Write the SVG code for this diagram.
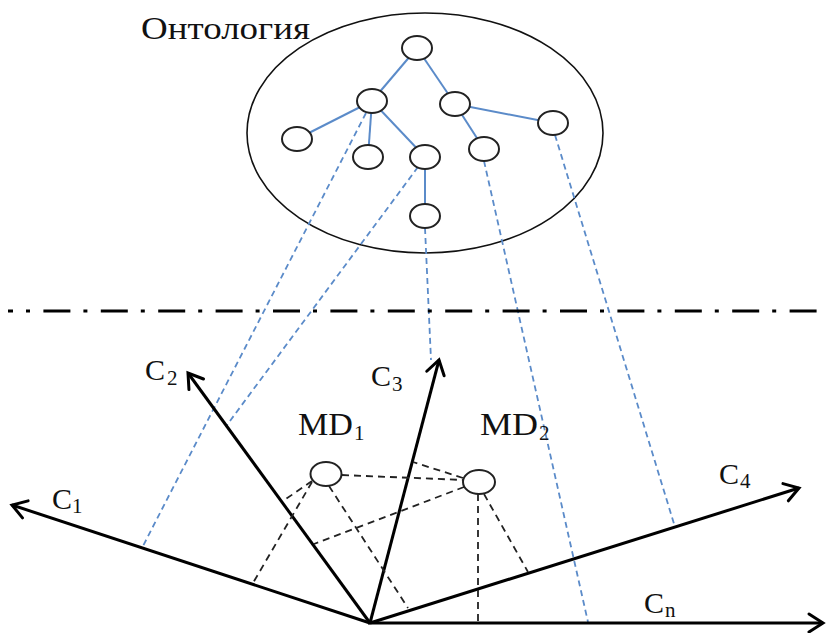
<svg xmlns="http://www.w3.org/2000/svg" width="827" height="633" viewBox="0 0 827 633">
  <style>
    .lbl { font-family: "Liberation Serif", "Times New Roman", serif; fill: #111; }
    .big { font-size: 30px; }
    .sub { font-size: 21px; }
    .tree { stroke: #5b8bc9; stroke-width: 2; fill: none; }
    .proj { stroke: #5b8bc9; stroke-width: 1.8; stroke-dasharray: 6 4; fill: none; }
    .node { fill: #fff; stroke: #222; stroke-width: 2; }
    .axis { stroke: #000; stroke-width: 3; fill: none; marker-end: url(#arrow); }
    .link { stroke: #222; stroke-width: 1.8; stroke-dasharray: 7 5; fill: none; }
  </style>
  <defs>
    <marker id="arrow" viewBox="-18 -12 22 24" refX="0" refY="0" markerWidth="22" markerHeight="24" markerUnits="userSpaceOnUse" orient="auto">
      <path d="M-14,-9 L0,0 L-14,9" fill="none" stroke="#000" stroke-width="3" stroke-linejoin="miter" stroke-linecap="round"/>
    </marker>
  </defs>
  <rect width="827" height="633" fill="#fff"/>

  <!-- ontology -->
  <g id="ontology">
    <ellipse cx="425" cy="133" rx="178" ry="120" fill="none" stroke="#111" stroke-width="1.6"/>
    <text class="lbl" x="141" y="39" font-size="32" textLength="169" lengthAdjust="spacingAndGlyphs">Онтология</text>
  </g>

  <!-- tree edges and projection lines -->
  <g id="connectors">
    <line class="tree" x1="417" y1="48" x2="372" y2="101"/>
    <line class="tree" x1="417" y1="48" x2="455" y2="104"/>
    <line class="tree" x1="372" y1="101" x2="297" y2="139"/>
    <line class="tree" x1="372" y1="101" x2="368" y2="157"/>
    <line class="tree" x1="372" y1="101" x2="425" y2="157"/>
    <line class="tree" x1="455" y1="104" x2="484" y2="149"/>
    <line class="tree" x1="455" y1="104" x2="553" y2="123"/>
    <line class="tree" x1="425" y1="157" x2="425" y2="216"/>

    <line class="proj" x1="366" y1="113" x2="143" y2="546"/>
    <line class="proj" x1="418" y1="167" x2="227" y2="425"/>
    <line class="proj" x1="425" y1="228" x2="431" y2="360"/>
    <line class="proj" x1="484" y1="161" x2="588" y2="622"/>
    <line class="proj" x1="555" y1="135" x2="675" y2="527"/>

    <!-- separator -->
    <line x1="8" y1="311" x2="827" y2="311" stroke="#000" stroke-width="3.2" stroke-dasharray="27 13 4 13.4" stroke-dashoffset="22"/>

    <!-- axes -->
    <line class="axis" x1="370" y1="623" x2="12" y2="505"/>
    <line class="axis" x1="370" y1="623" x2="188" y2="373"/>
    <line class="axis" x1="370" y1="623" x2="439" y2="360"/>
    <line class="axis" x1="370" y1="623" x2="799" y2="488"/>
    <line class="axis" x1="368" y1="623" x2="823" y2="623"/>

    <!-- document projections -->
    <line class="link" x1="342" y1="475" x2="463" y2="480"/>
    <line class="link" x1="312" y1="481" x2="283" y2="501"/>
    <line class="link" x1="312" y1="482" x2="253" y2="583"/>
    <line class="link" x1="329" y1="486" x2="408" y2="608"/>
    <line class="link" x1="463" y1="478" x2="413" y2="462"/>
    <line class="link" x1="464" y1="487" x2="314" y2="544"/>
    <line class="link" x1="478" y1="494" x2="478" y2="622"/>
    <line class="link" x1="484" y1="494" x2="528" y2="572"/>
  </g>

  <!-- tree nodes -->
  <g id="n-root"><ellipse class="node" cx="417" cy="48" rx="15" ry="12"/></g>
  <g id="n-a"><ellipse class="node" cx="372" cy="101" rx="15" ry="12"/></g>
  <g id="n-b"><ellipse class="node" cx="455" cy="104" rx="15" ry="12"/></g>
  <g id="n-c"><ellipse class="node" cx="297" cy="139" rx="15" ry="12"/></g>
  <g id="n-d"><ellipse class="node" cx="368" cy="157" rx="15" ry="12"/></g>
  <g id="n-e"><ellipse class="node" cx="425" cy="157" rx="15" ry="12"/></g>
  <g id="n-f"><ellipse class="node" cx="484" cy="149" rx="15" ry="12"/></g>
  <g id="n-g"><ellipse class="node" cx="553" cy="123" rx="15" ry="12"/></g>
  <g id="n-h"><ellipse class="node" cx="425" cy="216" rx="15" ry="12"/></g>

  <!-- documents -->
  <g id="md1">
    <ellipse class="node" cx="326" cy="474" rx="15.5" ry="12"/>
    <text class="lbl" x="298" y="435" font-size="32" textLength="55" lengthAdjust="spacingAndGlyphs">MD</text>
    <text class="lbl sub" x="354" y="440">1</text>
  </g>
  <g id="md2">
    <ellipse class="node" cx="479" cy="482" rx="16" ry="12"/>
    <text class="lbl" x="480" y="435" font-size="32" textLength="58" lengthAdjust="spacingAndGlyphs">MD</text>
    <text class="lbl sub" x="539" y="440">2</text>
  </g>

  <!-- axis labels -->
  <g id="c1"><text class="lbl big" x="52" y="509">C</text><text class="lbl sub" x="72" y="513">1</text></g>
  <g id="c2"><text class="lbl big" x="145" y="380">C</text><text class="lbl sub" x="167" y="385">2</text></g>
  <g id="c3"><text class="lbl big" x="371" y="386">C</text><text class="lbl sub" x="392" y="391">3</text></g>
  <g id="c4"><text class="lbl big" x="719" y="484">C</text><text class="lbl sub" x="740" y="488">4</text></g>
  <g id="cn"><text class="lbl big" x="644" y="613">C</text><text class="lbl sub" x="665" y="617">n</text></g>
</svg>
